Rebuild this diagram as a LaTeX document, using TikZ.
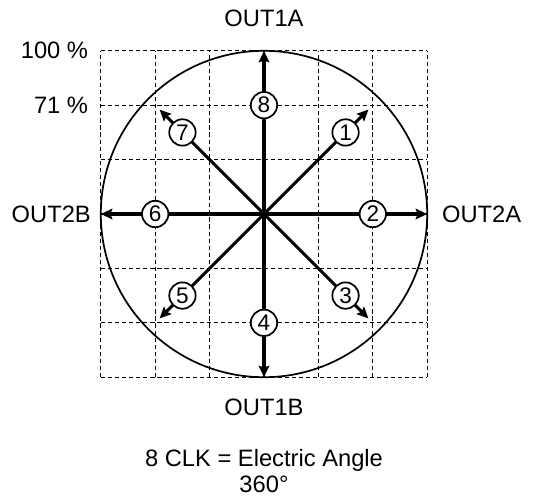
\documentclass[tikz,border=0pt]{standalone}
\usepackage{fontspec}
\setmainfont{Liberation Sans}
\usetikzlibrary{arrows.meta}
\begin{document}
\begin{tikzpicture}[>={Stealth[length=6pt,width=5.5pt,inset=1pt]},
  lbl/.style={font=\fontsize{12.4}{13.8}\selectfont},
  num/.style={circle,draw,line width=0.9pt,fill=white,inner sep=0pt,minimum size=13.8pt,font=\fontsize{11.8}{12}\selectfont},
  vec/.style={->,line width=1.6pt}]
\useasboundingbox (-4.853,-5.312) rectangle (5.055,3.934);
\draw[line width=0.6pt,dash pattern=on 2.2pt off 1.5pt] (-3,-3) grid (3,3);
\draw[line width=0.9pt] (0,0) circle (3);
\coordinate (o) at (0,0);
\foreach \n/\r/\c in {1/2.715/2.12,2/3/2,3/2.715/2.12,4/3/2,5/2.715/2.12,6/3/2,7/2.715/2.12,8/3/2}{
  \coordinate (t\n) at ({90-45*\n}:\r);
  \draw[vec] (o) -- (t\n);
  \node[num] (c\n) at ({90-45*\n}:\c) {\n};
}
\node[lbl] (out1a) at (0,3.6) {OUT1A};
\node[lbl] (out1b) at (0,-3.55) {OUT1B};
\node[lbl,anchor=west] (out2a) at (3.15,0) {OUT2A};
\node[lbl,anchor=east] (out2b) at (-3.06,0) {OUT2B};
\node[lbl,anchor=east] (p100) at (-3.11,3) {100 \%};
\node[lbl,anchor=east] (p71) at (-3.11,2) {71 \%};
\node[lbl,align=center] (clk) at (0,-4.72) {8 CLK = Electric Angle\\360°};
\end{tikzpicture}
\end{document}
